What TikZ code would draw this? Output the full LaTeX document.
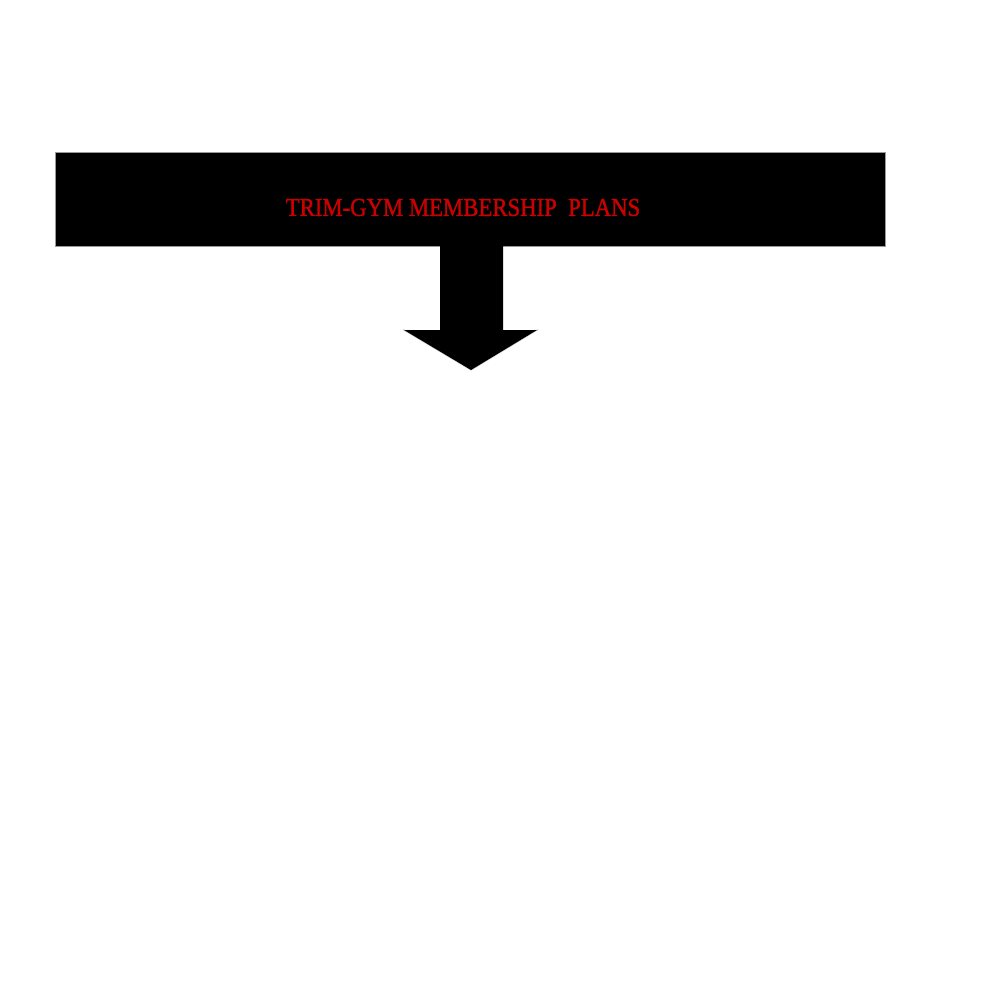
\documentclass[tikz,border=0pt]{standalone}
\usepackage{fontspec}
\setmainfont{Liberation Serif}
\newfontfamily\titlefont[FakeBold=1.2]{Liberation Serif}
\definecolor{titlered}{RGB}{204,0,0}
\tikzset{
  banner/.style={fill=black, draw=black!40, line width=0.4pt},
  bannertext/.style={text=titlered, inner sep=0pt, font=\titlefont\fontsize{25.7}{28}\selectfont, xscale=0.885},
  arrowbody/.style={fill=black},
  arrowrim/.style={draw=black!18, line width=1.2pt, line join=miter}
}
\begin{document}
\begin{tikzpicture}[x=1pt,y=-1pt]
\useasboundingbox (0,0) rectangle (1000,1000);
\fill[white] (0,0) rectangle (1000,1000);
\draw[banner] (55.5,152) rectangle (885.5,246.5);
\node[bannertext] (title) at (463,207.5) {TRIM-GYM MEMBERSHIP~~PLANS};
\coordinate (tip) at (471,370);
\draw[arrowrim] (403,329.5) -- (tip) -- (538,329.5);
\fill[arrowbody] (440,246) -- (440,330) -- (404,330) -- (tip) -- (537,330) -- (503,330) -- (503,246) -- cycle;
\end{tikzpicture}
\end{document}
